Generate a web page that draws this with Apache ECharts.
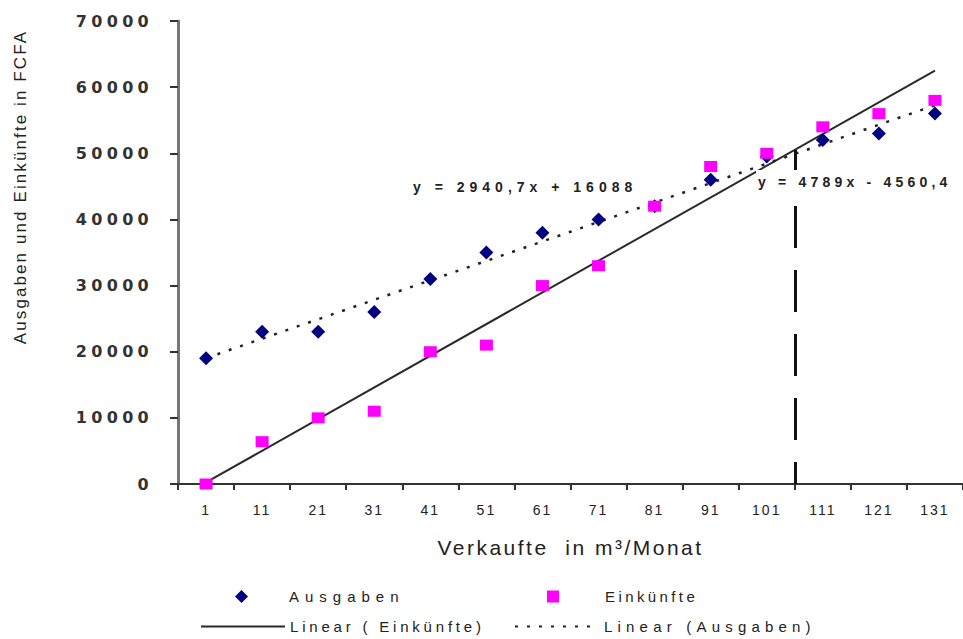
<!DOCTYPE html>
<html>
<head>
<meta charset="utf-8">
<script src="https://cdn.jsdelivr.net/npm/echarts@6/dist/echarts.min.js"></script>
<style>
  html, body { margin: 0; padding: 0; background: #ffffff; }
  #chart { width: 963px; height: 639px; }
</style>
</head>
<body>
<div id="chart"></div>
<script>
// Sales volume classes (m³ per month)
const categories = ['1', '11', '21', '31', '41', '51', '61', '71', '81', '91', '101', '111', '121', '131'];
// Expenses and income in FCFA
const ausgaben   = [19000, 23000, 23000, 26000, 31000, 35000, 38000, 40000, 42000, 46000, 49500, 52000, 53000, 56000];
const einkuenfte = [0, 6400, 10000, 11000, 20000, 21000, 30000, 33000, 42000, 48000, 50000, 54000, 56000, 58000];
// y-axis tick values
const yTicks = [0, 10000, 20000, 30000, 40000, 50000, 60000, 70000];
// Linear trend coefficients [slope, intercept] over the point index 1..14
const trendEinkuenfte = [4789, -4560.4];
const trendAusgaben   = [2940.7, 16088];
const equationTexts   = ['y = 2940,7x + 16088', 'y = 4789x - 4560,4'];
// Break-even marker: point index position and top value
const breakEven = [11.5, 50500];

const xTitle = 'Verkaufte  in m³/Monat';
const yTitle = 'Ausgaben und Einkünfte in FCFA';

function trendLine(coef) {
  const first = 1, last = categories.length;
  return [[first, coef[0] * first + coef[1]], [last, coef[0] * last + coef[1]]];
}

const FONT = 'Liberation Sans, Arial, sans-serif';
const legendText = { fontFamily: FONT, fontSize: 15, color: '#222' };

const option = {
  animation: false,
  backgroundColor: '#ffffff',
  grid: { left: 178, right: 0, top: 21, bottom: 155, containLabel: false, outerBoundsMode: 'none' },
  xAxis: [
    {
      type: 'category',
      data: categories,
      boundaryGap: true,
      name: xTitle,
      nameLocation: 'middle',
      nameGap: 53,
      nameTextStyle: { fontFamily: FONT, fontSize: 21, color: '#222' },
      axisLine: { lineStyle: { color: '#333', width: 2 } },
      axisTick: { show: true, length: 6, lineStyle: { color: '#333', width: 2 } },
      axisLabel: { interval: 0, margin: 19, fontFamily: FONT, fontSize: 14, color: '#222' },
      splitLine: { show: false }
    },
    {
      type: 'value',
      min: 0.5,
      max: categories.length + 0.5,
      show: false
    }
  ],
  yAxis: {
    type: 'value',
    min: yTicks[0],
    max: yTicks[yTicks.length - 1],
    interval: yTicks[1] - yTicks[0],
    axisLine: { show: true, lineStyle: { color: '#777', width: 3 } },
    axisTick: { show: true, length: 8, lineStyle: { color: '#333', width: 2 } },
    axisLabel: {
      margin: 25,
      formatter: function (v) { return String(v); },
      fontFamily: 'DejaVu Sans, sans-serif', fontWeight: 'bold', fontSize: 16, color: '#333'
    },
    splitLine: { show: false }
  },
  legend: [
    {
      left: 230, top: 584, itemWidth: 13, itemHeight: 13,
      textStyle: Object.assign({ padding: [0, 0, 0, 36] }, legendText),
      data: [{ name: 'Ausgaben', icon: 'diamond' }]
    },
    {
      left: 542, top: 584, itemWidth: 12, itemHeight: 12,
      textStyle: Object.assign({ padding: [0, 0, 0, 41] }, legendText),
      data: [{ name: 'Einkünfte', icon: 'rect' }]
    },
    {
      left: 195, top: 614, itemWidth: 84, itemHeight: 13,
      textStyle: legendText,
      data: [{ name: 'Linear ( Einkünfte)', itemStyle: { opacity: 0 } }]
    },
    {
      left: 509, top: 614, itemWidth: 84, itemHeight: 13,
      textStyle: legendText,
      data: [{ name: 'Linear (Ausgaben)', itemStyle: { opacity: 0 } }]
    }
  ],
  series: [
    {
      name: 'Linear ( Einkünfte)',
      type: 'line',
      xAxisIndex: 1,
      data: trendLine(trendEinkuenfte),
      showSymbol: false,
      symbol: 'none',
      lineStyle: { color: '#2a2a2a', width: 2, type: 'solid' },
      itemStyle: { color: '#2a2a2a' },
      z: 2
    },
    {
      name: 'Linear (Ausgaben)',
      type: 'line',
      xAxisIndex: 1,
      data: trendLine(trendAusgaben),
      showSymbol: false,
      symbol: 'none',
      lineStyle: { color: '#222', width: 2.5, type: [3, 9] },
      itemStyle: { color: '#222' },
      z: 2,
      markLine: {
        silent: true,
        symbol: ['none', 'none'],
        label: { show: false },
        lineStyle: { color: '#111', width: 3, type: [42, 22], dashOffset: 20 },
        data: [[{ coord: [breakEven[0], 0] }, { coord: [breakEven[0], breakEven[1]] }]]
      }
    },
    {
      name: 'Ausgaben',
      type: 'scatter',
      xAxisIndex: 0,
      data: ausgaben,
      symbol: 'diamond',
      symbolSize: [14, 14],
      itemStyle: { color: '#000080', opacity: 1 },
      z: 4
    },
    {
      name: 'Einkünfte',
      type: 'scatter',
      xAxisIndex: 0,
      data: einkuenfte,
      symbol: 'rect',
      symbolSize: [13, 11],
      itemStyle: { color: '#ff00ff', opacity: 1 },
      z: 5
    }
  ],
  graphic: [
    {
      type: 'text', x: 20, y: 187, rotation: Math.PI / 2,
      style: { text: yTitle, font: '17px ' + FONT, fill: '#222', textAlign: 'center', textVerticalAlign: 'middle' }
    },
    {
      type: 'text', x: 413, y: 187, z: 10,
      style: { text: equationTexts[0], font: 'bold 14px ' + FONT, fill: '#222', textAlign: 'left', textVerticalAlign: 'middle' }
    },
    {
      type: 'text', x: 756, y: 182, z: 10,
      style: {
        text: equationTexts[1], font: 'bold 14px ' + FONT, fill: '#222',
        textAlign: 'left', textVerticalAlign: 'middle',
        backgroundColor: '#ffffff', padding: [5, 2, 5, 2]
      }
    }
  ]
};

const chartEl = document.getElementById('chart');
const chart = echarts.init(chartEl, null, { renderer: 'svg' });
chart.setOption(option);

// Wide letter spacing of the printed labels
const textSpacing = {
  'Ausgaben': 6,
  'Einkünfte': 3.4,
  'Linear ( Einkünfte)': 3.8,
  'Linear (Ausgaben)': 5.2
};
textSpacing[equationTexts[0]] = 5;
textSpacing[equationTexts[1]] = 4.2;
textSpacing[yTitle] = 2.1;
textSpacing[xTitle] = 2.5;
const yLabelSet = new Set(yTicks.map(String));
const xLabelSet = new Set(categories);

function applySpacing() {
  chartEl.querySelectorAll('text').forEach(function (t) {
    const s = t.textContent;
    let ls = null;
    if (textSpacing[s] != null) ls = textSpacing[s];
    else if (yLabelSet.has(s)) ls = 4.3;
    else if (xLabelSet.has(s)) ls = 2;
    if (ls != null) t.style.letterSpacing = ls + 'px';
  });
}
applySpacing();
chart.on('finished', applySpacing);
</script>
</body>
</html>
